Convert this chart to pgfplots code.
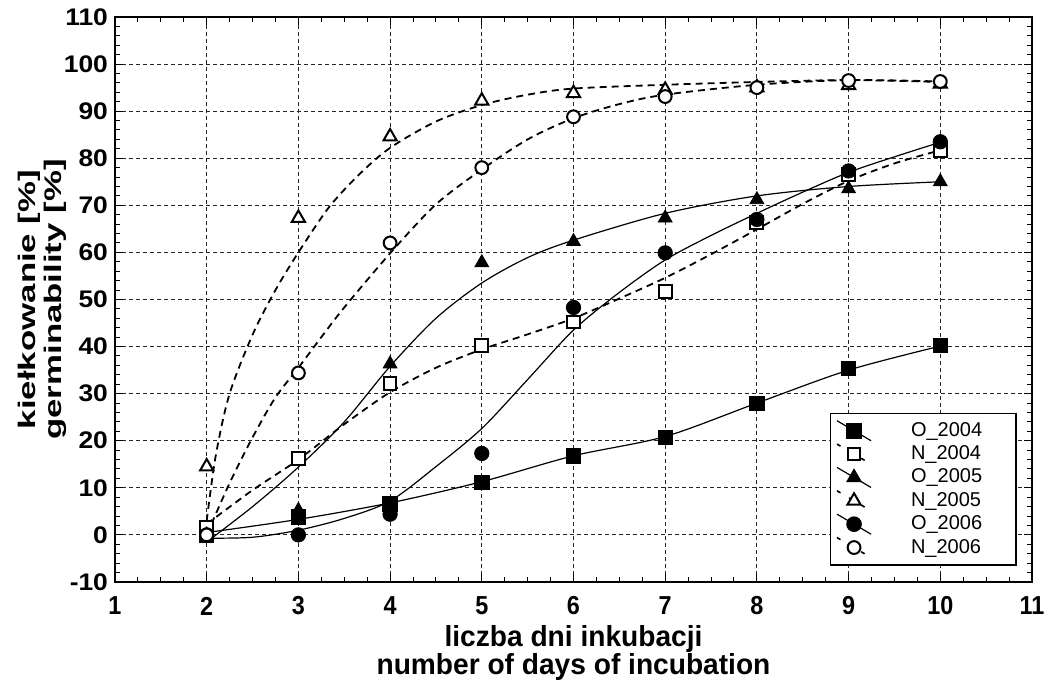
\documentclass[border=0pt]{standalone}
\usepackage{fontspec}
\setmainfont{Liberation Sans}
\newfontfamily\condfont[FakeStretch=0.9]{Liberation Sans}
\newfontfamily\labfont[FakeStretch=0.97]{Liberation Sans}
\newfontfamily\ytfont[FakeStretch=1.1]{Liberation Sans}
\newfontfamily\longfont[FakeStretch=1.45]{Liberation Sans}
\usepackage{pgfplots}
\pgfplotsset{compat=1.18}

\pgfplotsset{
  oleg/.style={legend image code/.code={
      \draw[black,solid,line width=0.6pt] (0pt,5pt)--(17pt,-5pt);
      \draw[##1] plot coordinates {(8.5pt,0pt)};
      \path[draw=none] (0pt,0pt)--(35pt,0pt);}},
  nleg/.style={legend image code/.code={
      \draw[black,line width=0.8pt,dash pattern=on 2pt off 5pt] (0pt,5pt)--(17pt,-5pt);
      \draw[##1] plot coordinates {(8.5pt,0pt)};
      \path[draw=none] (0pt,0pt)--(35pt,0pt);}},
  fitO/.style={black, line width=0.6pt, smooth, tension=0.5, no marks, forget plot},
  fitN/.style={black, line width=0.9pt, dash pattern=on 3.5pt off 2.5pt, smooth, tension=0.5, no marks, forget plot},
}

\begin{document}
\begin{tikzpicture}
\begin{axis}[
  scale only axis, width=458.5pt, height=282.5pt,
  xmin=1, xmax=11, ymin=-10, ymax=110,
  xtick={1,...,11}, ytick={-10,0,...,110},
  minor x tick num=3, minor y tick num=4,
  tick align=inside, major tick length=4pt, minor tick length=2.5pt,
  grid=major,
  grid style={dash pattern=on 2pt off 1.5pt, line width=0.5pt, black!85},
  axis line style={line width=0.6pt},
  tick style={black, line width=0.5pt},
  /pgf/number format/assume math mode=true,
  yticklabel style={font=\ytfont\bfseries\fontsize{12}{13}\selectfont},
  xticklabel style={font=\condfont\bfseries\fontsize{13}{14}\selectfont, anchor=center, yshift=-12pt},
  xlabel={liczba dni inkubacji\\number of days of incubation},
  xlabel style={align=center, font=\labfont\bfseries\fontsize{14.5}{14}\selectfont,
    at={(rel axis cs:0.5,-0.1752)}, anchor=south, inner sep=0pt},
  ylabel={kiełkowanie [\%]\\germinability [\%]},
  ylabel style={align=center, font=\longfont\bfseries\fontsize{12}{13}\selectfont,
    at={(rel axis cs:-0.0796,0.5)}, anchor=center},
  legend style={at={(rel axis cs:0.9826,0.030)}, anchor=south east,
    draw=black, line width=0.6pt, fill=white, outer sep=0pt,
    font=\fontsize{10}{12}\selectfont, row sep=-0.8pt,
    inner xsep=3pt, inner ysep=2.5pt},
  legend cell align=left,
]
\coordinate (ll) at (rel axis cs:0,0);
\coordinate (ur) at (rel axis cs:1,1);
% fitted curves
\addplot[fitO] coordinates {(2,0.5) (3,3.3) (4,6.8) (5,11.3) (6,16.8) (7,20.9) (8,28) (9,35) (10,40.1)};
\addplot[fitN] coordinates {(2,2.3) (2.5,9.5) (3,16) (3.5,23.5) (4,30.3) (4.5,35.5) (5,39.4) (5.5,42.6) (6,46) (6.5,50.2) (7,54.6) (7.5,59.6) (8,64.9) (8.5,70.3) (9,75.2) (9.5,78.9) (10,81.7)};
\addplot[fitO] coordinates {(2,-1.5) (2.5,6) (3,14.4) (3.5,24) (4,35.8) (4.5,46) (5,53.5) (5.5,58.9) (6,62.6) (7,68.3) (8,72) (9,74) (10,75)};
\addplot[fitN] coordinates {(2,3) (2.1,17) (2.25,30) (2.5,42.5) (2.75,52) (3,60) (3.33,69.5) (3.66,76.5) (4,82.2) (4.5,87.8) (5,91.3) (5.5,93.5) (6,94.8) (7,95.6) (8,96.2) (9,96.6) (10,96.2)};
\addplot[fitO] coordinates {(2,-0.7) (2.5,-0.5) (3,1.0) (3.5,3.5) (4,7.2) (4.5,14.5) (5,22.6) (5.5,33) (6,43.5) (6.5,51.5) (7,58.4) (7.5,63.6) (8,68.3) (8.5,72.8) (9,77) (9.5,80.3) (10,83.4)};
\addplot[fitN] coordinates {(2,0) (2.25,11) (2.5,20.7) (2.75,29.2) (3,35.5) (3.25,42) (3.5,48.3) (4,59.8) (4.5,70.2) (5,77.6) (5.5,84) (6,88.5) (6.5,91.5) (7,93.5) (8,95.6) (9,96.6) (10,96.3)};

% observations
\addplot[oleg, only marks, mark=square*, mark size=3.6pt, black] coordinates {
  (2,0) (3,3.8) (4,6.6) (5,11.2) (6,16.8) (7,20.7) (8,27.9) (9,35.4) (10,40.2)};
\addlegendentry{\makebox[47.5pt][l]{O\_2004}}
\addplot[nleg, only marks, mark=square*, mark size=3.2pt, mark options={solid, draw=black, fill=white, line width=1pt}] coordinates {
  (2,1.6) (3,16.3) (4,32.2) (5,40.2) (6,45.2) (7,51.7) (8,66.3) (9,76.5) (10,81.6)};
\addlegendentry{N\_2004}
\addplot[oleg, only marks, mark=triangle*, mark size=4pt, black] coordinates {
  (2,0) (3,5.2) (4,36.3) (5,57.8) (6,62.3) (7,67.3) (8,71.2) (9,73.5) (10,75)};
\addlegendentry{O\_2005}
\addplot[nleg, only marks, mark=triangle*, mark size=3.8pt, mark options={solid, draw=black, fill=white, line width=1pt}] coordinates {
  (2,14.5) (3,67.3) (4,84.6) (5,92.2) (6,93.8) (7,94.5) (8,95) (9,95.5) (10,95.8)};
\addlegendentry{N\_2005}
\addplot[oleg, only marks, mark=*, mark size=3.6pt, black] coordinates {
  (2,0) (3,0) (4,4.4) (5,17.3) (6,48.3) (7,59.9) (8,67) (9,77.3) (10,83.5)};
\addlegendentry{O\_2006}
\addplot[nleg, only marks, mark=*, mark size=3.2pt, mark options={solid, draw=black, fill=white, line width=1pt}] coordinates {
  (2,0) (3,34.4) (4,62) (5,78) (6,88.8) (7,93.1) (8,95) (9,96.5) (10,96.3)};
\addlegendentry{N\_2006}
\end{axis}
\pgfresetboundingbox
\path ([shift={(-57.5pt,-50pt)}]ll) rectangle ([shift={(7pt,8.5pt)}]ur);
\end{tikzpicture}
\end{document}
